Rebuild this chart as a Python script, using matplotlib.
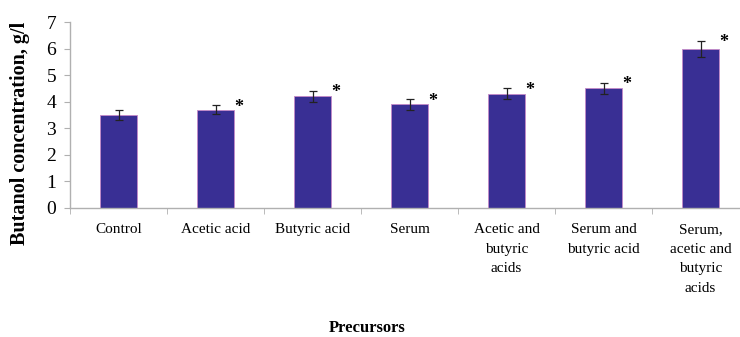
import matplotlib
matplotlib.use("Agg")
import matplotlib.pyplot as plt
import numpy as np

# Butanol yield for each precursor added to the medium
precursors = [
    "Control",
    "Acetic acid",
    "Butyric acid",
    "Serum",
    "Acetic and\nbutyric\nacids",
    "Serum and\nbutyric acid",
    "Serum,\nacetic and\nbutyric\nacids",
]
butanol = [3.5, 3.7, 4.2, 3.9, 4.3, 4.5, 6.0]
errors = [0.18, 0.18, 0.22, 0.2, 0.2, 0.22, 0.3]
significant = [False, True, True, True, True, True, True]

plt.rcParams["font.family"] = ["Liberation Serif", "DejaVu Serif"]

fig = plt.figure(figsize=(7.4, 3.37), dpi=100)
# axes run slightly past the right edge of the figure
ax = fig.add_axes([0.0946, 0.3828, 0.9176, 0.5519])

x = np.arange(len(precursors))
ax.bar(x, butanol, width=0.39, color="#392f94", edgecolor="#c58ac8", linewidth=0.6)
ax.errorbar(x, butanol, yerr=errors, fmt="none", ecolor="#222222",
            elinewidth=0.9, capsize=3, capthick=0.9)

# asterisks mark a significant difference from the control
for xi, val, err, sig in zip(x, butanol, errors, significant):
    if sig:
        ax.text(xi + 0.24, val + err - 0.08, "*", ha="center", va="center",
                fontsize=13, fontweight="bold", color="black")

ax.set_xlim(-0.5, 6.5)
ax.set_ylim(0, 7)
ax.set_yticks(range(0, 8))
ax.tick_params(axis="y", direction="out", length=4, color="#b0b0b0",
               labelsize=14, pad=6)

ax.set_xticks(x)
ax.set_xticklabels(precursors, fontsize=11, linespacing=1.65)
ax.set_xticks(np.arange(-0.5, 7, 1), minor=True)
ax.tick_params(axis="x", which="major", length=0, pad=11)
ax.tick_params(axis="x", which="minor", direction="out", length=4, color="#b0b0b0")

for side in ("top", "right"):
    ax.spines[side].set_visible(False)
for side in ("left", "bottom"):
    ax.spines[side].set_color("#b0b0b0")
    ax.spines[side].set_linewidth(1.0)

ax.set_ylabel("Butanol concentration, g/l", fontsize=14.5, fontweight="bold")
ax.yaxis.set_label_coords(-0.059, 0.40)
ax.set_xlabel("Precursors", fontsize=12, fontweight="bold")
ax.xaxis.set_label_coords(0.437, -0.60)

fig.savefig("out.png", dpi=100)
